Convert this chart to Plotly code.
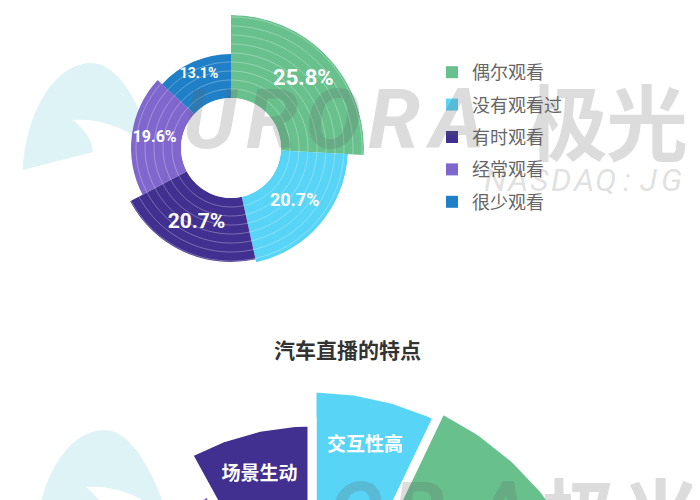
import numpy as np
import plotly.graph_objects as go

# ---------------- data ----------------
categories = ["偶尔观看", "没有观看过", "有时观看", "经常观看", "很少观看"]
shares = [25.8, 20.7, 20.7, 19.6, 13.1]
rose_radius = [83, 67, 64, 50, 44]          # relative petal length

bottom_title = "汽车直播的特点"
bottom_labels = ["交互性高", "", "", "场景生动"]   # clockwise from top; middle two unlabeled in view
bottom_shares = [7.1, 15.0, 12.5, 8.0]
bottom_radius = [292, 300, 215, 258]

# ---------------- style ----------------
colors = ["#68C18D", "#58D4F7", "#41308F", "#7F67CD", "#1F80C7"]
label_sizes = [22, 18, 21, 16, 14]
label_frac = [0.6, 0.5, 0.5, 0.54, 0.68]
bottom_colors = ["#58D4F7", "#68C18D", "#7F67CD", "#41308F"]

W, H = 700, 500
OX, OY = 8, 8      # page body margin
px = lambda x: (x - OX) / W
py = lambda y: 1 - (y - OY) / H

fig = go.Figure()

# ---------------- top rose (barpolar) ----------------
sh = np.array(shares)
widths = 360 * sh / sh.sum()
starts = np.cumsum(widths) - widths
mids = starts + widths / 2
for i, name in enumerate(categories):
    fig.add_trace(go.Barpolar(
        r=[rose_radius[i]], theta=[mids[i]], width=[widths[i]],
        marker=dict(color=colors[i], line=dict(width=0)),
        name=name, legendgroup=name, subplot="polar",
        hovertemplate=f"{name}: {shares[i]}%<extra></extra>",
    ))

# thin concentric bands inside each petal
band_r, band_t = [], []
for i in range(len(shares)):
    for rr in np.arange(9, rose_radius[i], 9):
        th = np.linspace(starts[i], starts[i] + widths[i], 40)
        band_r += [rr] * len(th) + [None]
        band_t += list(th) + [None]
fig.add_trace(go.Scatterpolar(
    r=band_r, theta=band_t, mode="lines",
    line=dict(color="rgba(255,255,255,0.3)", width=1),
    showlegend=False, hoverinfo="skip", subplot="polar",
))

fig.add_trace(go.Scatterpolar(
    r=[label_frac[i] * rose_radius[i] for i in range(len(shares))],
    theta=list(mids), mode="text",
    text=[f"<b>{v}%</b>" for v in shares],
    textfont=dict(color="white", size=label_sizes, family="Roboto"),
    showlegend=False, hoverinfo="skip", subplot="polar",
))

# ---------------- bottom rose (partial, cartesian) ----------------
cx, cy = 312, 680
bs = np.array(bottom_shares) * 3.6
b_start = [0.0, bs[0], 360 - bs[3] - bs[2], 360 - bs[3]]
for i in range(len(bottom_shares)):
    a = np.radians(np.linspace(b_start[i], b_start[i] + bs[i], 60))
    R = bottom_radius[i]
    xs = np.concatenate([[cx], cx + R * np.sin(a), [cx]])
    ys = np.concatenate([[cy], cy - R * np.cos(a), [cy]])
    fig.add_trace(go.Scatter(
        x=xs, y=ys, mode="lines", fill="toself", fillcolor=bottom_colors[i],
        line=dict(color="white", width=9), showlegend=False, hoverinfo="skip",
    ))
    if bottom_labels[i]:
        am = np.radians(b_start[i] + bs[i] / 2)
        fig.add_trace(go.Scatter(
            x=[cx + 0.82 * R * np.sin(am)], y=[cy - 0.82 * R * np.cos(am)],
            mode="text", text=[f"<b>{bottom_labels[i]}</b>"],
            textfont=dict(color="white", size=19, family="Noto Sans CJK SC"),
            showlegend=False, hoverinfo="skip",
        ))

# ---------------- watermark ----------------
annotations = []
wm_color = "rgba(95,95,95,0.22)"

def wm(xc, yc, ch, size, family, style="normal", color=wm_color, bold=True):
    annotations.append(dict(x=px(xc), y=py(yc), xref="paper", yref="paper",
                            xanchor="center", yanchor="middle",
                            text=f"<b>{ch}</b>" if bold else ch, showarrow=False,
                            font=dict(size=size, color=color, family=family, style=style)))

for k, ch in enumerate(["U", "R", "O", "R", "A"]):
    wm(211 + 61 * k, 120, ch, 84, "Roboto", "italic")
for xc, ch in [(567, "极"), (647, "光")]:
    wm(xc, 119, ch, 82, "Noto Sans CJK SC")
for k, ch in enumerate("NASDAQ:JG"):
    wm(495 + 22 * k, 180, ch, 32, "Roboto", "italic", "rgba(95,95,95,0.2)", bold=False)
for xc, ch in [(356, "O"), (418, "R"), (500, "A")]:
    wm(xc, 512, ch, 84, "Roboto", "italic")
for xc, ch in [(582, "极"), (661, "光")]:
    wm(xc, 512, ch, 82, "Noto Sans CJK SC")

# title of the second chart
annotations.append(dict(x=px(347), y=py(349), xref="paper", yref="paper",
                        xanchor="center", yanchor="middle",
                        text=f"<b>{bottom_title}</b>", showarrow=False,
                        font=dict(size=21, color="#333333", family="Noto Sans CJK SC")))

def swoosh(dx, dy):
    segs = [("M", [(23, 170)]), ("C", [(25, 120), (50, 65), (90, 63)]),
            ("C", [(115, 62), (135, 95), (150, 135)]), ("L", [(140, 140)]),
            ("C", [(120, 125), (95, 118), (73, 120)]),
            ("C", [(85, 130), (92, 140), (93, 152)])]
    out = ""
    for cmd, pts in segs:
        out += cmd + " " + " ".join(f"{px(x + dx):.4f},{py(y + dy):.4f}" for x, y in pts) + " "
    return out + "Z"

shapes = [
    dict(type="path", path=swoosh(0, 0), xref="paper", yref="paper",
         fillcolor="rgba(190,232,236,0.5)", line=dict(width=0), layer="below"),
    dict(type="path", path=swoosh(13, 367), xref="paper", yref="paper",
         fillcolor="rgba(190,232,236,0.5)", line=dict(width=0), layer="below"),
]

fig.update_layout(
    width=W, height=H, margin=dict(l=0, r=0, t=0, b=0),
    paper_bgcolor="white", plot_bgcolor="rgba(0,0,0,0)",
    polar=dict(
        domain=dict(x=[px(231 - 133), px(231 + 133)], y=[py(148 + 133), py(148 - 133)]),
        hole=50 / 133, bgcolor="rgba(0,0,0,0)",
        radialaxis=dict(range=[0, max(rose_radius)], showticklabels=False, ticks="",
                        showline=False, showgrid=False),
        angularaxis=dict(rotation=90, direction="clockwise", showgrid=False,
                         showticklabels=False, ticks="", showline=False),
    ),
    xaxis=dict(range=[OX, OX + W], visible=False, domain=[0, 1], fixedrange=True),
    yaxis=dict(range=[OY + H, OY], visible=False, domain=[0, 1], fixedrange=True),
    legend=dict(x=px(432), y=py(54), xanchor="left", yanchor="top",
                font=dict(size=18, color="#666666", family="Noto Sans CJK SC"),
                tracegroupgap=6, bgcolor="rgba(0,0,0,0)"),
    annotations=annotations, shapes=shapes, showlegend=True,
)

fig.write_html("out.html")
